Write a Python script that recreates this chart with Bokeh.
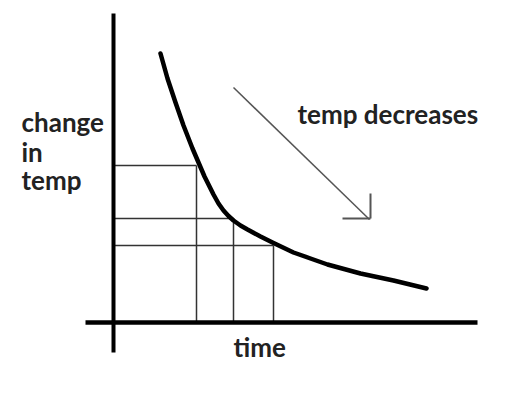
from bokeh.plotting import figure
from bokeh.models import Range1d
from bokeh.core.properties import value
from bokeh.embed import file_html
from bokeh.resources import INLINE

# Conceptual cooling curve (time vs change in temp)
curve_time = [4.7, 5.4, 6.2, 7.0, 7.9, 8.5, 9.1, 10.0, 10.5, 11.0, 11.5, 12.0, 12.7, 13.4, 14.7, 15.9,
              18.0, 19.7, 21.4, 24.7, 28.0, 31.3]
curve_temp = [26.9, 24.4, 22.0, 19.7, 17.4, 16.0, 14.6, 12.8, 11.9, 11.2, 10.65, 10.2, 9.7, 9.3, 8.6, 8.0,
              7.0, 6.4, 5.8, 4.9, 4.2, 3.4]

# Reference readings drawn as drop lines
mark_time = [8.3, 12.0, 16.0]
mark_temp = [15.7, 10.4, 7.7]

# Axis extents
x_axis_span = [-2.8, 36.4]
y_axis_span = [-3.0, 30.9]

# Arrow showing the trend
arrow_start = (12.0, 23.5)
arrow_end = (25.6, 10.3)
arrow_head_v = ([25.7, 25.7], [12.9, 10.4])
arrow_head_h = ([22.9, 25.7], [10.4, 10.4])

# Labels
y_label_lines = ["change", "in", "temp"]
y_label_x = -9.2
y_label_y = [20.1, 17.1, 14.3]
x_label = "time"
x_label_pos = (12.0, -2.4)
trend_label = "temp decreases"
trend_label_pos = (18.4, 20.9)

FONT = value("Lato")
TEXT_COLOR = "#222222"
FONT_SIZE = "26px"

p = figure(width=506, height=380, output_backend="svg", toolbar_location=None,
           x_range=Range1d(-11.3, 39.3), y_range=Range1d(-5.8, 32.2),
           x_axis_location=None, y_axis_location=None, min_border=0)
p.grid.visible = False
p.outline_line_color = None
p.background_fill_color = "white"
p.border_fill_color = "white"

# drop lines
for t, v in zip(mark_time, mark_temp):
    p.line([0, t], [v, v], line_color="#333333", line_width=1.5)
    p.line([t, t], [0, v], line_color="#333333", line_width=1.5)

# axes
p.line([0, 0], y_axis_span, line_color="black", line_width=4)
p.line(x_axis_span, [0, 0], line_color="black", line_width=4.5)

# curve
p.line(curve_time, curve_temp, line_color="black", line_width=4.5,
       line_join="round", line_cap="round")

# arrow
p.line([arrow_start[0], arrow_end[0]], [arrow_start[1], arrow_end[1]],
       line_color="#555555", line_width=1.5)
p.line(arrow_head_v[0], arrow_head_v[1], line_color="#555555", line_width=2)
p.line(arrow_head_h[0], arrow_head_h[1], line_color="#555555", line_width=2)

# texts
p.text(x=[y_label_x] * 3, y=y_label_y, text=y_label_lines, text_font=FONT,
       text_font_style="bold", text_font_size=FONT_SIZE, text_color=TEXT_COLOR,
       text_baseline="alphabetic", text_align="left")
p.text(x=[x_label_pos[0]], y=[x_label_pos[1]], text=[x_label], text_font=FONT,
       text_font_style="bold", text_font_size=FONT_SIZE, text_color=TEXT_COLOR,
       text_baseline="alphabetic", text_align="left")
p.text(x=[trend_label_pos[0]], y=[trend_label_pos[1]], text=[trend_label], text_font=FONT,
       text_font_style="bold", text_font_size=FONT_SIZE, text_color=TEXT_COLOR,
       text_baseline="alphabetic", text_align="left")

open("out.html", "w").write(file_html(p, INLINE))
